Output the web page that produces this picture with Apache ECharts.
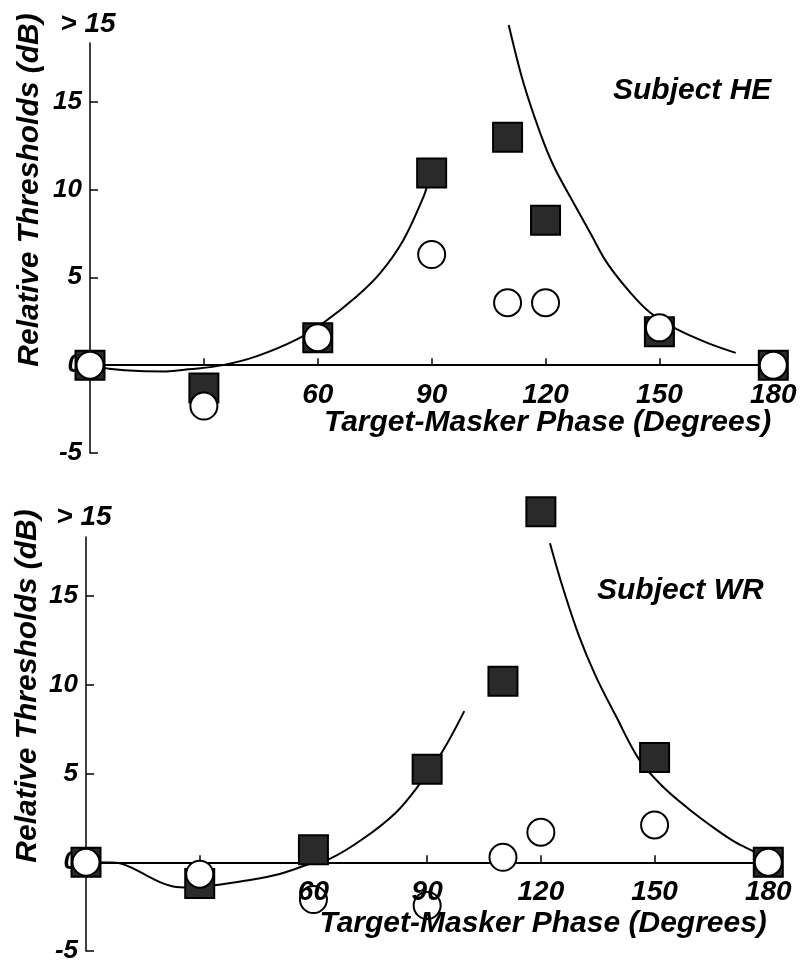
<!DOCTYPE html>
<html>
<head>
<meta charset="utf-8">
<script src="https://cdn.jsdelivr.net/npm/echarts@6/dist/echarts.min.js"></script>
<style>
  html, body { margin: 0; padding: 0; background: #fff; }
  #chart { width: 802px; height: 966px; }
</style>
</head>
<body>
<div id="chart"></div>
<script>
// ---------- data ----------
const phases = [0, 30, 60, 90, 110, 120, 150, 180];

// Subject HE
const heFilled = [0, -1.3, 1.56, 10.93, 12.97, 8.24, 1.9, 0];
const heOpen   = [0, -2.33, 1.56, 6.29, 3.55, 3.55, 2.12, 0];
const heFitLowPhase  = [0, 5, 13, 20, 26, 35, 44, 54.5, 61.5, 70.3, 76.5, 82.6, 87.9, 88.8];
const heFitLowValue  = [0, -0.2, -0.34, -0.36, -0.24, 0, 0.51, 1.46, 2.41, 3.92, 5.25, 7.14, 9.6, 10.2];
const heFitHighPhase = [110.3, 114.2, 118.6, 122.2, 127.4, 131.8, 136.2, 142.4, 147.6, 154.7, 162.6, 170.1];
const heFitHighValue = [19.36, 16.05, 13.2, 11.3, 9.23, 7.52, 5.82, 4.11, 2.98, 2.03, 1.27, 0.70];

// Subject WR
const wrFilled = [0, -1.2, 0.71, 5.24, 10.2, 19.75, 5.9, 0];
const wrOpen   = [0, -0.67, -2.1, -2.44, 0.28, 1.69, 2.1, 0];
const wrFitLowPhase  = [0, 8, 12, 16, 19.5, 23, 27, 33.5, 42.3, 51.1, 59, 64.3, 73, 81.8, 88, 94.1, 99.8];
const wrFitLowValue  = [0, -0.02, -0.3, -0.75, -1.12, -1.36, -1.42, -1.31, -1.03, -0.66, -0.1, 0.19, 1.31, 2.81, 4.4, 6.27, 8.52];
const wrFitHighPhase = [122.4, 125.7, 130.1, 134.5, 139.8, 145.9, 152.0, 159.1, 166.1, 171.4, 176.6, 179.3, 180];
const wrFitHighValue = [17.98, 15.54, 12.73, 10.48, 8.24, 5.8, 4.3, 2.99, 1.87, 1.12, 0.56, 0.19, 0];

// ticks / labels
const xTickValues  = [30, 60, 90, 120, 150];
const xLabelValues = [60, 90, 120, 150, 180];
const yTickValues  = [-5, 0, 5, 10, 15];
const overflowLabel = '> 15';
const xTitle = 'Target-Masker Phase (Degrees)';
const yTitle = 'Relative Thresholds (dB)';
const subjects = ['Subject HE', 'Subject WR'];

// ---------- layout ----------
const FONT = '"Liberation Sans", Arial, Helvetica, sans-serif';
const Y_MIN = -5, Y_MAX = 18.33;
const grids = [
  { left: 90, top: 43, width: 683.3, height: 410 },
  { left: 86, top: 537, width: 682.3, height: 414 }
];
// distance (px) from the grid bottom up to the zero line
const zeroLift = g => (0 - Y_MIN) / (Y_MAX - Y_MIN) * g.height;

const zip = (xs, ys) => xs.map((x, i) => [x, ys[i]]);

function lineAxis(gridIndex) {
  return {
    type: 'value', gridIndex, min: 0, max: 180, position: 'bottom',
    axisLine: { show: true, onZero: true, lineStyle: { color: '#000', width: 2 } },
    axisTick: { show: true, inside: true, length: 7, customValues: xTickValues, lineStyle: { color: '#000', width: 1.5 } },
    axisLabel: { show: false },
    splitLine: { show: false },
    z: 0
  };
}
// labels + title drawn above the markers, placed on the zero line
function labelAxis(gridIndex, labelMargin, nameGap) {
  return {
    type: 'value', gridIndex, min: 0, max: 180, position: 'bottom',
    offset: -zeroLift(grids[gridIndex]),
    axisLine: { show: false, onZero: false },
    axisTick: { show: false },
    axisLabel: {
      show: true, customValues: xLabelValues, margin: labelMargin,
      color: '#000', fontSize: 28, fontStyle: 'italic', fontWeight: 'bold', fontFamily: FONT
    },
    splitLine: { show: false },
    name: xTitle, nameLocation: 'middle', nameGap, nameMoveOverlap: false,
    nameTextStyle: {
      color: '#000', fontSize: 30, fontStyle: 'italic', fontWeight: 'bold', fontFamily: FONT,
      padding: [0, 0, 0, 232]
    },
    z: 10
  };
}
function yAxisOf(gridIndex, padShift, nameGap) {
  return {
    type: 'value', gridIndex, min: Y_MIN, max: Y_MAX, position: 'left',
    axisLine: { show: true, onZero: true, lineStyle: { color: '#000', width: 1.5 } },
    axisTick: { show: true, inside: true, length: 8, customValues: yTickValues, lineStyle: { color: '#000', width: 1.5 } },
    axisLabel: {
      show: true, customValues: yTickValues, margin: 8,
      color: '#000', fontSize: 26, fontStyle: 'italic', fontWeight: 'bold', fontFamily: FONT
    },
    splitLine: { show: false },
    name: yTitle, nameLocation: 'middle', nameRotate: 90, nameGap, nameMoveOverlap: false,
    nameTextStyle: {
      color: '#000', fontSize: 30, fontStyle: 'italic', fontWeight: 'bold', fontFamily: FONT,
      padding: [0, 0, 0, padShift]
    },
    z: 0
  };
}
function fitLine(xi, yi, data) {
  return {
    type: 'line', xAxisIndex: xi, yAxisIndex: yi, data,
    smooth: 0.35, showSymbol: false, symbol: 'none',
    lineStyle: { color: '#000', width: 2 }, clip: false, silent: true, z: 1
  };
}
function squares(xi, yi, data) {
  return {
    type: 'scatter', xAxisIndex: xi, yAxisIndex: yi, data,
    symbol: 'rect', symbolSize: 29,
    itemStyle: { color: '#2a2a2a', borderColor: '#000', borderWidth: 2, opacity: 1 },
    clip: false, silent: true, z: 2
  };
}
function circles(xi, yi, data) {
  return {
    type: 'scatter', xAxisIndex: xi, yAxisIndex: yi, data,
    symbol: 'circle', symbolSize: 27,
    itemStyle: { color: '#fff', borderColor: '#000', borderWidth: 2, opacity: 1 },
    clip: false, silent: true, z: 3
  };
}

const chart = echarts.init(document.getElementById('chart'), null, { renderer: 'canvas' });
chart.setOption({
  backgroundColor: '#fff',
  animation: false,
  title: [
    { text: subjects[0], left: 608, top: 71, padding: 5,
      textStyle: { color: '#000', fontSize: 30, fontStyle: 'italic', fontWeight: 'bold', fontFamily: FONT } },
    { text: subjects[1], left: 592, top: 571, padding: 5,
      textStyle: { color: '#000', fontSize: 30, fontStyle: 'italic', fontWeight: 'bold', fontFamily: FONT } }
  ],
  graphic: [
    { type: 'text', x: 88, y: 24, z: 10,
      style: { text: overflowLabel, font: 'italic bold 28px ' + FONT, textAlign: 'center', textVerticalAlign: 'middle', fill: '#000' } },
    { type: 'text', x: 84, y: 517, z: 10,
      style: { text: overflowLabel, font: 'italic bold 28px ' + FONT, textAlign: 'center', textVerticalAlign: 'middle', fill: '#000' } }
  ],
  grid: grids.map(g => Object.assign({ containLabel: false, outerBoundsMode: 'none' }, g)),
  xAxis: [
    lineAxis(0),
    labelAxis(0, 16, 43),
    lineAxis(1),
    labelAxis(1, 16, 46)
  ],
  yAxis: [
    yAxisOf(0, 116, 45),
    yAxisOf(1, 116, 43)
  ],
  series: [
    fitLine(0, 0, zip(heFitLowPhase, heFitLowValue)),
    fitLine(0, 0, zip(heFitHighPhase, heFitHighValue)),
    squares(0, 0, zip(phases, heFilled)),
    circles(0, 0, zip(phases, heOpen)),
    fitLine(2, 1, zip(wrFitLowPhase, wrFitLowValue)),
    fitLine(2, 1, zip(wrFitHighPhase, wrFitHighValue)),
    squares(2, 1, zip(phases, wrFilled)),
    circles(2, 1, zip(phases, wrOpen))
  ]
});
</script>
</body>
</html>
